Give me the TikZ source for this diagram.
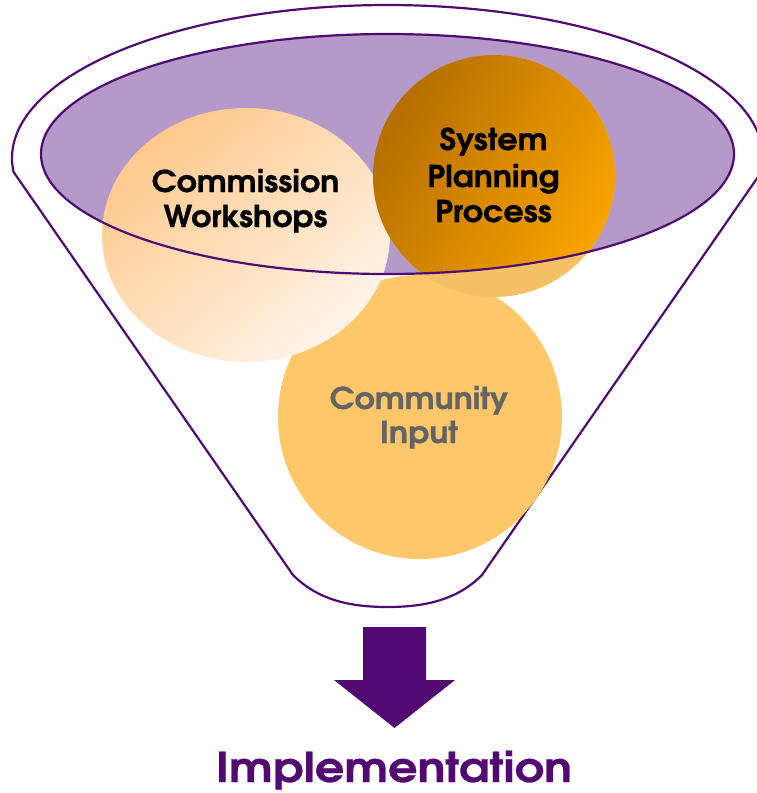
\documentclass[tikz,border=0pt]{standalone}
\usepackage{fontspec}
\usepackage{graphicx}
\newfontfamily\gothic[FakeBold=0.6]{texgyreadventor-bold.otf}
\usetikzlibrary{shapes.geometric}
\definecolor{funnelline}{HTML}{4E0B70}
\definecolor{bowlfill}{HTML}{B599C8}
\definecolor{peachA}{HTML}{FFC98D}
\definecolor{peachB}{HTML}{FFF4EA}
\definecolor{orangeA}{HTML}{B56E00}
\definecolor{orangeB}{HTML}{F9A400}
\definecolor{orangeLow}{HTML}{F4C167}
\definecolor{community}{HTML}{FEC76A}
\definecolor{greytext}{HTML}{646464}
\definecolor{arrowpurple}{HTML}{520A72}
\newcommand{\wideA}[1]{\scalebox{1.06}[1]{#1}}
\newcommand{\wideB}[1]{\scalebox{1.13}[1]{#1}}
\tikzset{
  outline/.style={draw=funnelline, line width=2.2pt, line join=round},
  blob/.style={inner sep=0pt, outer sep=0pt, draw=none},
  lbl/.style={anchor=base, inner sep=0pt, font=\gothic\fontsize{30}{36}\selectfont},
  biglbl/.style={anchor=base, inner sep=0pt, font=\gothic\fontsize{41}{48}\selectfont, text=arrowpurple}
}
\begin{document}
\begin{tikzpicture}[x=1pt,y=1pt]
\useasboundingbox (0,0) rectangle (756,-793);
% outer funnel
\draw[outline] (13.6,-172) -- (293,-575)
  .. controls (318,-600) and (350,-607) .. (387.5,-607)
  .. controls (425,-607) and (457,-600) .. (482,-575)
  -- (761.4,-172)
  arc[start angle=-5.25, end angle=185.25, x radius=375.5, y radius=153] -- cycle;
% inner bowl fill
\fill[bowlfill] (387.5,-154) ellipse[x radius=346.5, y radius=120];
% circles
\node[blob, circle, minimum size=284pt, fill=community] (ci) at (420,-417) {};
\node[blob, ellipse, minimum width=288pt, minimum height=254pt,
      top color=peachA, bottom color=peachB, shading angle=40] (cw) at (246,-235) {};
\node[blob, circle, minimum size=242pt, fill=orangeLow] (sp) at (494,-176) {};
\begin{scope}
  \clip (387.5,-154) ellipse[x radius=346.5, y radius=120];
  \shade[top color=orangeA, bottom color=orangeB, shading angle=60] (494,-176) circle[radius=121];
\end{scope}
% inner bowl rim
\draw[outline] (387.5,-154) ellipse[x radius=346.5, y radius=120];
% labels
\node[lbl] (cw1) at (245.5,-192) {\wideA{Commission}};
\node[lbl] (cw2) at (245.5,-227) {\wideA{Workshops}};
\node[lbl] (sp1) at (493.5,-150) {\wideA{System}};
\node[lbl] (sp2) at (493.5,-187) {\wideA{Planning}};
\node[lbl] (sp3) at (493.5,-222) {\wideA{Process}};
\node[lbl, text=greytext] (ci1) at (419,-409) {\wideA{Community}};
\node[lbl, text=greytext] (ci2) at (419,-443) {\wideA{Input}};
% arrow
\fill[arrowpurple] (363,-627) -- (426,-627) -- (426,-680) -- (455,-680)
  -- (394.5,-728) -- (334,-680) -- (363,-680) -- cycle;
\node[biglbl] (impl) at (394,-782) {\wideB{Implementation}};
\end{tikzpicture}
\end{document}
